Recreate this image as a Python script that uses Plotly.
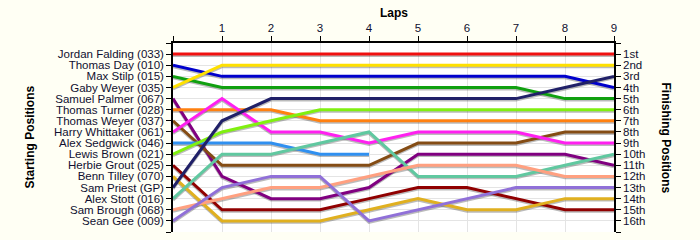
import plotly.graph_objects as go

laps = [0, 1, 2, 3, 4, 5, 6, 7, 8, 9]

drivers = [
    "Jordan Falding (033)", "Thomas Day (010)", "Max Stilp (015)", "Gaby Weyer (035)",
    "Samuel Palmer (067)", "Thomas Turner (028)", "Thomas Weyer (037)", "Harry Whittaker (061)",
    "Alex Sedgwick (046)", "Lewis Brown (021)", "Herbie Grout (025)", "Benn Tilley (070)",
    "Sam Priest (GP)", "Alex Stott (016)", "Sam Brough (068)", "Sean Gee (009)",
]

pos_jordan_falding = [1, 1, 1, 1, 1, 1, 1, 1, 1, 1]
pos_thomas_day = [2, 3, 3, 3, 3, 3, 3, 3, 3, 4]
pos_max_stilp = [3, 4, 4, 4, 4, 4, 4, 4, 5, 5]
pos_gaby_weyer = [4, 2, 2, 2, 2, 2, 2, 2, 2, 2]
pos_samuel_palmer = [5, 12, 14, 14, 13, 10, 10, 10, 10, 11]
pos_thomas_turner = [6, 6, 6, 7, 7, 7, 7, 7, 7, 7]
pos_thomas_weyer = [7, 11, 11, 11, 11, 9, 9, 9, 8, 8]
pos_harry_whittaker = [8, 5, 8, 8, 9, 8, 8, 8, 9, 9]
pos_alex_sedgwick = [9, 9, 9, 10, 10, None, None, None, None, None]
pos_lewis_brown = [10, 8, 7, 6, 6, 6, 6, 6, 6, 6]
pos_herbie_grout = [11, 15, 15, 15, 14, 13, 13, 14, 15, 15]
pos_benn_tilley = [12, 16, 16, 16, 15, 14, 15, 15, 14, 14]
pos_sam_priest = [13, 7, 5, 5, 5, 5, 5, 5, 4, 3]
pos_alex_stott = [14, 10, 10, 9, 8, 12, 12, 12, 11, 10]
pos_sam_brough = [15, 14, 13, 13, 12, 11, 11, 11, 12, 12]
pos_sean_gee = [16, 13, 12, 12, 16, 15, 14, 13, 13, 13]

positions = [
    pos_jordan_falding, pos_thomas_day, pos_max_stilp, pos_gaby_weyer,
    pos_samuel_palmer, pos_thomas_turner, pos_thomas_weyer, pos_harry_whittaker,
    pos_alex_sedgwick, pos_lewis_brown, pos_herbie_grout, pos_benn_tilley,
    pos_sam_priest, pos_alex_stott, pos_sam_brough, pos_sean_gee,
]

colors = [
    "#F01010", "#0000CC", "#10A010", "#FFE000",
    "#800080", "#FF8010", "#844C14", "#FF20F0",
    "#3090F0", "#80F010", "#900000", "#E0B020",
    "#202068", "#60C8A0", "#FFA080", "#9070D8",
]

finish_labels = ["1st", "2nd", "3rd", "4th", "5th", "6th", "7th", "8th",
                 "9th", "10th", "11th", "12th", "13th", "14th", "15th", "16th"]

lap_labels = ["", "1", "2", "3", "4", "5", "6", "7", "8", "9"]

fig = go.Figure()

# shadows
for name, ys in zip(drivers, positions):
    fig.add_trace(go.Scatter(
        x=laps, y=[None if v is None else v + 0.13 for v in ys],
        mode="lines", line=dict(color="rgba(60,60,60,0.35)", width=3),
        hoverinfo="skip", showlegend=False))

for name, ys, c in zip(drivers, positions, colors):
    fig.add_trace(go.Scatter(
        x=laps, y=ys, mode="lines", name=name,
        line=dict(color=c, width=3), showlegend=False))

fig.add_trace(go.Scatter(x=[0], y=[1], yaxis="y2", mode="markers",
                         marker=dict(opacity=0), showlegend=False, hoverinfo="skip"))

tickfont = dict(family="Liberation Sans, Arial, sans-serif", size=11.5, color="#101030")

left_vals = list(range(0, 18))
left_text = [""] + drivers + [""]
right_text = [""] + finish_labels + [""]

fig.update_layout(
    width=700, height=240,
    margin=dict(l=173, r=86, t=43, b=8),
    paper_bgcolor="#FFFFF4",
    plot_bgcolor="#FFFFFF",
    xaxis=dict(
        side="top", range=[0, 9], tickvals=laps, ticktext=lap_labels,
        showgrid=True, gridcolor="#E4E4E4", gridwidth=1,
        showline=True, linecolor="black", linewidth=1.5,
        ticks="outside", ticklen=5, tickcolor="black", tickwidth=1,
        tickfont=tickfont, zeroline=False, fixedrange=True,
    ),
    yaxis=dict(
        range=[17, 0], tickvals=left_vals, ticktext=left_text,
        showgrid=True, gridcolor="#E4E4E4", gridwidth=1,
        showline=True, linecolor="black", linewidth=1.5,
        ticks="outside", ticklen=5, tickcolor="black", tickwidth=1,
        tickfont=tickfont, zeroline=False, fixedrange=True,
    ),
    yaxis2=dict(
        overlaying="y", side="right", range=[17, 0], tickvals=left_vals,
        ticktext=right_text, showgrid=False,
        showline=True, linecolor="black", linewidth=1.5,
        ticks="outside", ticklen=5, tickcolor="black", tickwidth=1,
        tickfont=tickfont, zeroline=False, fixedrange=True,
    ),
    annotations=[
        dict(text="<b>Laps</b>", xref="paper", yref="paper", x=0.5, y=1,
             yshift=30, xanchor="center", yanchor="middle", showarrow=False,
             font=dict(family="Liberation Sans, Arial, sans-serif", size=12, color="black")),
        dict(text="<b>Starting Positions</b>", xref="paper", yref="paper", x=0,
             xshift=-144, y=0.5, textangle=-90, xanchor="center", yanchor="middle",
             showarrow=False,
             font=dict(family="Liberation Sans, Arial, sans-serif", size=12, color="black")),
        dict(text="<b>Finishing Positions</b>", xref="paper", yref="paper", x=1,
             xshift=52, y=0.5, textangle=90, xanchor="center", yanchor="middle",
             showarrow=False,
             font=dict(family="Liberation Sans, Arial, sans-serif", size=12, color="black")),
    ],
)

fig.write_html("out.html")
